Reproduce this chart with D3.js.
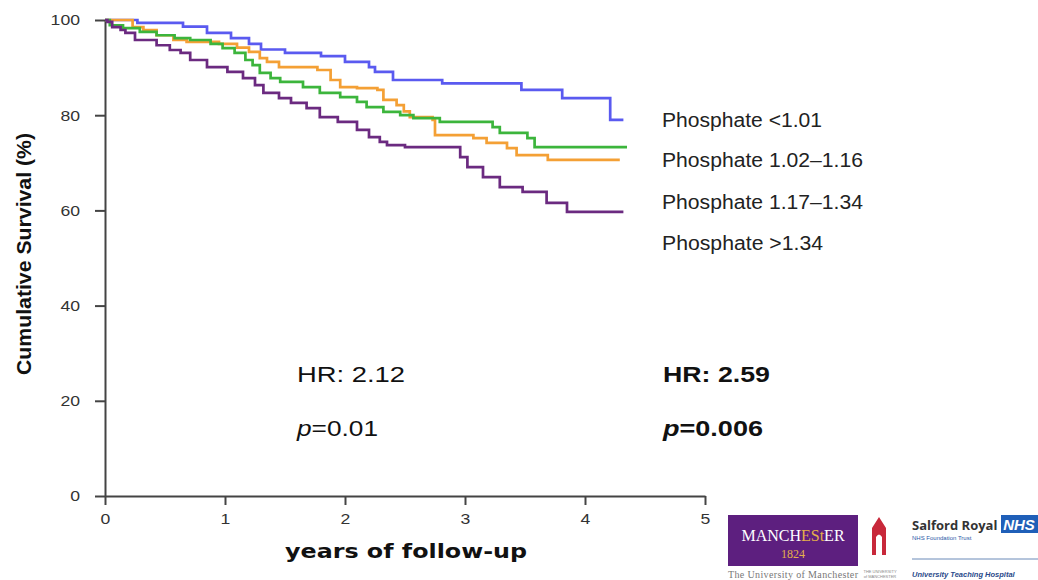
<!DOCTYPE html>
<html>
<head>
<meta charset="utf-8">
<script src="https://cdn.jsdelivr.net/npm/d3@7"></script>
<style>
  html, body { margin: 0; padding: 0; background: #fff; }
  svg { display: block; }
</style>
</head>
<body>
<svg id="chart" width="1038" height="580"></svg>
<script>
// Kaplan–Meier survival by serum phosphate quartile
const groupLabels = ["Phosphate <1.01", "Phosphate 1.02–1.16", "Phosphate 1.17–1.34", "Phosphate >1.34"];
const groupColors = ["#5a5af0", "#f4a035", "#3cb53c", "#6b2a80"];

// step times (years) and cumulative survival (%) for each group
const timesQ1 = [0, 0.27, 0.65, 0.85, 1.05, 1.2, 1.3, 1.5, 1.8, 2.0, 2.2, 2.25, 2.4, 2.81, 3.47, 3.81, 4.21, 4.32];
const survQ1  = [100, 99.4, 98.6, 97.3, 96.2, 95.0, 93.8, 93.1, 92.4, 91.2, 90.1, 89.1, 87.4, 86.7, 85.3, 83.6, 79.0, 79.0];

const timesQ2 = [0, 0.23, 0.32, 0.43, 0.57, 0.68, 0.95, 1.1, 1.2, 1.29, 1.35, 1.45, 1.77, 1.88, 1.96, 2.10, 2.27, 2.32, 2.43, 2.49, 2.54, 2.73, 2.75, 3.07, 3.18, 3.35, 3.43, 3.69, 4.29];
const survQ2  = [100, 98.5, 97.9, 96.8, 95.8, 95.4, 95.0, 94.2, 93.3, 92.0, 91.2, 90.1, 89.5, 87.4, 85.9, 85.7, 85.3, 83.2, 82.1, 80.8, 79.6, 79.0, 75.8, 75.2, 74.2, 73.1, 71.6, 70.6, 70.6];

const timesQ3 = [0, 0.04, 0.15, 0.29, 0.43, 0.58, 0.71, 0.88, 0.98, 1.08, 1.17, 1.23, 1.29, 1.38, 1.46, 1.65, 1.79, 1.96, 2.10, 2.18, 2.32, 2.46, 2.57, 2.79, 3.23, 3.29, 3.52, 3.58, 4.35];
const survQ3  = [100, 98.9, 98.3, 97.5, 96.8, 96.2, 95.8, 95.0, 94.1, 93.1, 91.6, 90.5, 88.9, 87.8, 87.0, 85.9, 84.7, 83.8, 82.8, 81.7, 80.7, 80.0, 79.4, 78.6, 77.5, 76.3, 75.2, 73.3, 73.3];

const timesQ4 = [0, 0.02, 0.06, 0.13, 0.17, 0.25, 0.43, 0.54, 0.63, 0.71, 0.85, 1.02, 1.15, 1.25, 1.32, 1.45, 1.55, 1.68, 1.79, 1.94, 2.10, 2.20, 2.29, 2.35, 2.50, 2.96, 3.02, 3.15, 3.29, 3.48, 3.68, 3.85, 4.32];
const survQ4  = [100, 99.6, 98.5, 97.9, 97.3, 95.8, 94.7, 93.7, 93.1, 91.6, 90.1, 89.1, 87.8, 86.3, 84.7, 83.6, 82.6, 81.5, 79.6, 78.6, 76.9, 75.4, 74.4, 73.7, 73.3, 71.2, 69.1, 67.0, 64.9, 63.9, 61.6, 59.7, 59.7];

const xTicks = [0, 1, 2, 3, 4, 5];
const yTicks = [0, 20, 40, 60, 80, 100];

const seriesTimes = [timesQ1, timesQ2, timesQ3, timesQ4];
const seriesSurv = [survQ1, survQ2, survQ3, survQ4];

const svg = d3.select("#chart");
const margin = { left: 105, top: 20, width: 600, height: 476 };

const x = d3.scaleLinear().domain([0, 5]).range([margin.left, margin.left + margin.width]);
const y = d3.scaleLinear().domain([0, 100]).range([margin.top + margin.height, margin.top]);

const tickFont = "'Liberation Sans', Arial, sans-serif";

// y axis
const yAxis = svg.append("g")
  .attr("transform", `translate(${margin.left},0)`)
  .call(d3.axisLeft(y).tickValues(yTicks).tickFormat(d3.format("d")).tickSize(10).tickPadding(15).tickSizeOuter(0));
// x axis
const xAxis = svg.append("g")
  .attr("transform", `translate(0,${margin.top + margin.height})`)
  .call(d3.axisBottom(x).tickValues(xTicks).tickFormat(d3.format("d")).tickSize(9).tickPadding(8).tickSizeOuter(0));

[yAxis, xAxis].forEach(g => {
  g.select(".domain").attr("stroke", "#444").attr("stroke-width", 2);
  g.selectAll(".tick line").attr("stroke", "#444").attr("stroke-width", 2);
  g.selectAll(".tick text")
    .attr("fill", "#333")
    .attr("textLength", d => String(d).length * 9.8)
    .attr("lengthAdjust", "spacingAndGlyphs")
    .style("font-family", tickFont)
    .style("font-size", "15px");
});

// survival curves
const line = d3.line()
  .x(d => x(d[0]))
  .y(d => y(d[1]))
  .curve(d3.curveStepAfter);

seriesTimes.forEach((times, i) => {
  const pts = times.map((t, j) => [t, seriesSurv[i][j]]);
  svg.append("path")
    .datum(pts)
    .attr("fill", "none")
    .attr("stroke", groupColors[i])
    .attr("stroke-width", 2.7)
    .attr("d", line);
});

// axis titles
svg.append("text")
  .attr("transform", `translate(31,254) rotate(-90)`)
  .attr("text-anchor", "middle")
  .attr("textLength", 242)
  .attr("lengthAdjust", "spacingAndGlyphs")
  .style("font-family", "'Liberation Sans Narrow', 'Arial Narrow', 'Liberation Sans', sans-serif")
  .style("font-weight", "bold")
  .style("font-size", "21px")
  .attr("fill", "#111")
  .text("Cumulative Survival (%)");

svg.append("text")
  .attr("x", 406)
  .attr("y", 558)
  .attr("text-anchor", "middle")
  .attr("textLength", 242)
  .attr("lengthAdjust", "spacingAndGlyphs")
  .style("font-family", "'DejaVu Sans', Verdana, sans-serif")
  .style("font-weight", "bold")
  .style("font-size", "19px")
  .attr("fill", "#111")
  .text("years of follow-up");

// legend labels
const legendY = [127, 167, 209, 250];
const legendWidth = [160, 201, 201, 161];
groupLabels.forEach((lab, i) => {
  svg.append("text")
    .attr("x", 662)
    .attr("y", legendY[i])
    .attr("textLength", legendWidth[i])
    .attr("lengthAdjust", "spacingAndGlyphs")
    .style("font-family", tickFont)
    .style("font-size", "20px")
    .attr("fill", "#222")
    .text(lab);
});

// hazard ratio annotations
const hrText = ["HR: 2.12", "HR: 2.59"];
const pText = ["0.01", "0.006"];
const annX = [297, 663];
const annWeight = ["normal", "bold"];
const hrWidth = [108, 107];
const pWidth = [81, 100];
hrText.forEach((t, i) => {
  svg.append("text")
    .attr("x", annX[i]).attr("y", 382)
    .attr("textLength", hrWidth[i])
    .attr("lengthAdjust", "spacingAndGlyphs")
    .style("font-family", tickFont)
    .style("font-size", "22px")
    .style("font-weight", annWeight[i])
    .attr("fill", "#111")
    .text(t);
  const pt = svg.append("text")
    .attr("x", annX[i]).attr("y", 436)
    .attr("textLength", pWidth[i])
    .attr("lengthAdjust", "spacingAndGlyphs")
    .style("font-family", tickFont)
    .style("font-size", "22px")
    .style("font-weight", annWeight[i])
    .attr("fill", "#111");
  pt.append("tspan").style("font-style", "italic").text("p");
  pt.append("tspan").text("=" + pText[i]);
});

// institutional logos
const logo = svg.append("g");
logo.append("rect").attr("x", 728).attr("y", 515).attr("width", 130).attr("height", 51).attr("fill", "#5d1f7f");
const man = logo.append("text").attr("x", 793).attr("y", 541).attr("text-anchor", "middle")
  .style("font-family", "'Liberation Serif', 'DejaVu Serif', serif").style("font-size", "16px").attr("fill", "#fff");
man.append("tspan").text("MANCH");
man.append("tspan").attr("fill", "#e4b04a").text("ESt");
man.append("tspan").text("ER");
logo.append("text").attr("x", 793).attr("y", 558).attr("text-anchor", "middle")
  .style("font-family", "'Liberation Serif', serif").style("font-size", "12px").attr("fill", "#e4b04a").text("1824");
logo.append("text").attr("x", 728).attr("y", 578).attr("textLength", 130)
  .style("font-family", "'Liberation Serif', serif").style("font-size", "10px").attr("fill", "#777").text("The University of Manchester");

// crest emblem
logo.append("path")
  .attr("d", "M872,555 L872,528 L879,517 L886,528 L886,555 L882,555 L882,537 Q879,532 876,537 L876,555 Z")
  .attr("fill", "#c8283a");
logo.append("text").attr("x", 880).attr("y", 573).attr("text-anchor", "middle")
  .style("font-family", tickFont).style("font-size", "4px").attr("fill", "#888").text("THE UNIVERSITY");
logo.append("text").attr("x", 880).attr("y", 578).attr("text-anchor", "middle")
  .style("font-family", tickFont).style("font-size", "4px").attr("fill", "#888").text("of MANCHESTER");

logo.append("text").attr("x", 912).attr("y", 530)
  .style("font-family", "'Open Sans', 'DejaVu Sans', sans-serif").style("font-weight", "bold")
  .style("font-size", "13px").attr("fill", "#333").text("Salford Royal");
logo.append("rect").attr("x", 1001).attr("y", 515).attr("width", 37).attr("height", 18).attr("fill", "#1f5fb8");
logo.append("text").attr("x", 1019).attr("y", 530).attr("text-anchor", "middle")
  .style("font-family", tickFont).style("font-weight", "bold").style("font-style", "italic")
  .style("font-size", "15px").attr("fill", "#fff").text("NHS");
logo.append("text").attr("x", 912).attr("y", 540)
  .style("font-family", tickFont).style("font-size", "6px").attr("fill", "#2a5aa8").text("NHS Foundation Trust");
logo.append("line").attr("x1", 912).attr("x2", 1038).attr("y1", 559).attr("y2", 559)
  .attr("stroke", "#6a8ab8").attr("stroke-width", 1);
logo.append("text").attr("x", 912).attr("y", 577)
  .style("font-family", tickFont).style("font-weight", "bold").style("font-style", "italic")
  .style("font-size", "7.5px").attr("fill", "#2a4a8a").text("University Teaching Hospital");
</script>
</body>
</html>
